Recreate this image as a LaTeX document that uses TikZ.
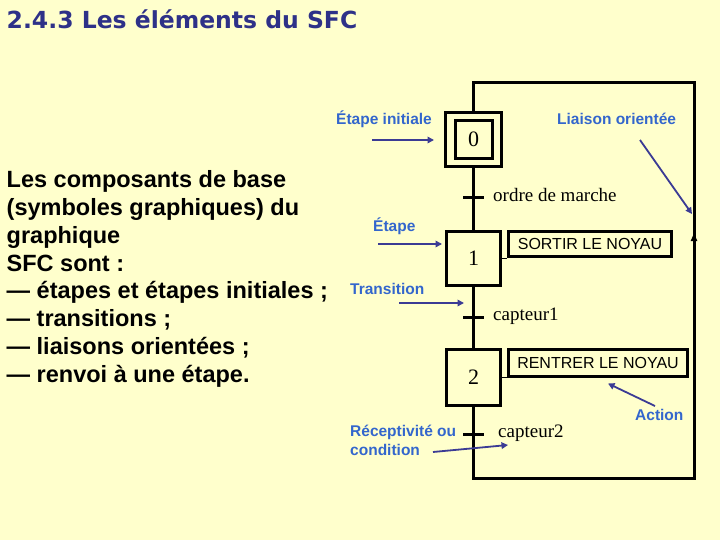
\documentclass[tikz,border=0pt]{standalone}
\usepackage{fontspec}
\setmainfont{Liberation Serif}
\setsansfont{Liberation Sans}
\newfontfamily\titlefont{DejaVu Sans}
\usetikzlibrary{arrows.meta}
\definecolor{bgc}{HTML}{FFFFCC}
\definecolor{titlec}{HTML}{2E3188}
\definecolor{labc}{HTML}{3366CC}
\definecolor{arrc}{HTML}{3B3B94}
\begin{document}
\begin{tikzpicture}[x=1pt,y=-1pt,
  stepbox/.style={draw, line width=3pt, minimum width=54pt, minimum height=54pt, inner sep=0pt, font=\fontsize{22}{22}\selectfont},
  actbox/.style={draw, line width=3pt, inner sep=0pt, font=\sffamily\fontsize{16}{16}\selectfont},
  trans/.style={fill=black, minimum width=21pt, minimum height=3pt, inner sep=0pt},
  lab/.style={text=labc, font=\sffamily\bfseries\fontsize{15.5}{18}\selectfont, inner sep=0pt},
  cond/.style={font=\fontsize{19}{19}\selectfont, inner sep=0pt},
  bodytext/.style={font=\sffamily\bfseries\fontsize{23.5}{27.9}\selectfont, inner sep=0pt, anchor=base west},
  ptr/.style={draw=arrc, line width=1.8pt, -{Triangle[width=6.5pt,length=6.5pt]}},
  link/.style={line width=3pt},
  thin/.style={line width=1pt}]
\fill[bgc] (0,0) rectangle (720,540);
\useasboundingbox (0,0) rectangle (720,540);

% title
\node[inner sep=0pt, anchor=base west, text=titlec, font=\titlefont\bfseries\fontsize{23.5}{26}\selectfont] (title) at (6.5,28.3) {2.4.3 Les éléments du SFC};

% body text
\foreach \t [count=\i from 0] in {Les composants de base, (symboles graphiques) du, graphique, SFC sont :, — étapes et étapes initiales ;, — transitions ;, — liaisons orientées ;, — renvoi à une étape.}
  \node[bodytext] (body\i) at (6.5,{187.3+27.9*\i}) {\t};

% steps
\node[stepbox, minimum width=56pt, minimum height=54pt] (step0) at (473.5,139.5) {};
\node[stepbox, minimum width=37pt, minimum height=38pt] (step0i) at (473.5,139.5) {0};
\node[stepbox] (step1) at (473.5,258.5) {1};
\node[stepbox, minimum height=56pt] (step2) at (473.5,377.5) {2};

% transitions
\coordinate (t0) at (473.5,198);
\coordinate (t1) at (473.5,317);
\coordinate (t2) at (473.5,434);
\coordinate (bl) at (473.5,478);
\coordinate (br) at (694,478);
\coordinate (tr) at (694,83);
\coordinate (tl) at (473.5,83);
\coordinate (upa) at (694,252);
\coordinate (upb) at (694,233);

\draw[link] (step0.south) -- (t0) -- (step1.north);
\draw[link] (step1.south) -- (t1) -- (step2.north);
\draw[link] (step2.south) -- (t2) -- (bl) -- (br) -- (tr) -- (tl) -- (step0.north);
\draw[link, -{Triangle[width=6pt,length=8pt]}] (upa) -- (upb);

\node[trans] (tb0) at (t0) {};
\node[trans] (tb1) at (t1) {};
\node[trans] (tb2) at (t2) {};

% receptivities
\node[cond, anchor=base west] (c0) at (493,201.7) {ordre de marche};
\node[cond, anchor=base west] (c1) at (493,320.7) {capteur1};
\node[cond, anchor=base west] (c2) at (498,437.3) {capteur2};

% actions
\node[actbox, minimum width=163pt, minimum height=25pt] (a1) at (590,244) {SORTIR LE NOYAU};
\node[actbox, minimum width=179pt, minimum height=27pt] (a2) at (598,363) {RENTRER LE NOYAU};
\draw[thin] (step1.east) -- (step1.east -| a1.west);
\draw[thin] (step2.east) -- (step2.east -| a2.west);

% labels
\node[lab, anchor=base east] (lEi) at (432,124.5) {Étape initiale};
\node[lab, anchor=base west] (lLo) at (557,124.5) {Liaison orientée};
\node[lab, anchor=base west] (lEt) at (373,231.7) {Étape};
\node[lab, anchor=base west] (lTr) at (350,294.3) {Transition};
\node[lab, anchor=base west] (lAc) at (635,420) {Action};
\node[lab, anchor=base west] (lRc) at (350,436.7) {Réceptivité ou};
\node[lab, anchor=base west] (lCd) at (350,455) {condition};

% pointer arrows
\coordinate (p1s) at (372,140);  \coordinate (p1e) at (434,140);
\coordinate (p2s) at (640,140);  \coordinate (p2e) at (692,214);
\coordinate (p3s) at (378,244);  \coordinate (p3e) at (442,244);
\coordinate (p4s) at (399,303);  \coordinate (p4e) at (464,303);
\coordinate (p5s) at (655,406);  \coordinate (p5e) at (608,383.5);
\coordinate (p6s) at (433,452);  \coordinate (p6e) at (508,445);
\draw[ptr] (p1s) -- (p1e);
\draw[ptr] (p2s) -- (p2e);
\draw[ptr] (p3s) -- (p3e);
\draw[ptr] (p4s) -- (p4e);
\draw[ptr] (p5s) -- (p5e);
\draw[ptr] (p6s) -- (p6e);
\end{tikzpicture}
\end{document}
